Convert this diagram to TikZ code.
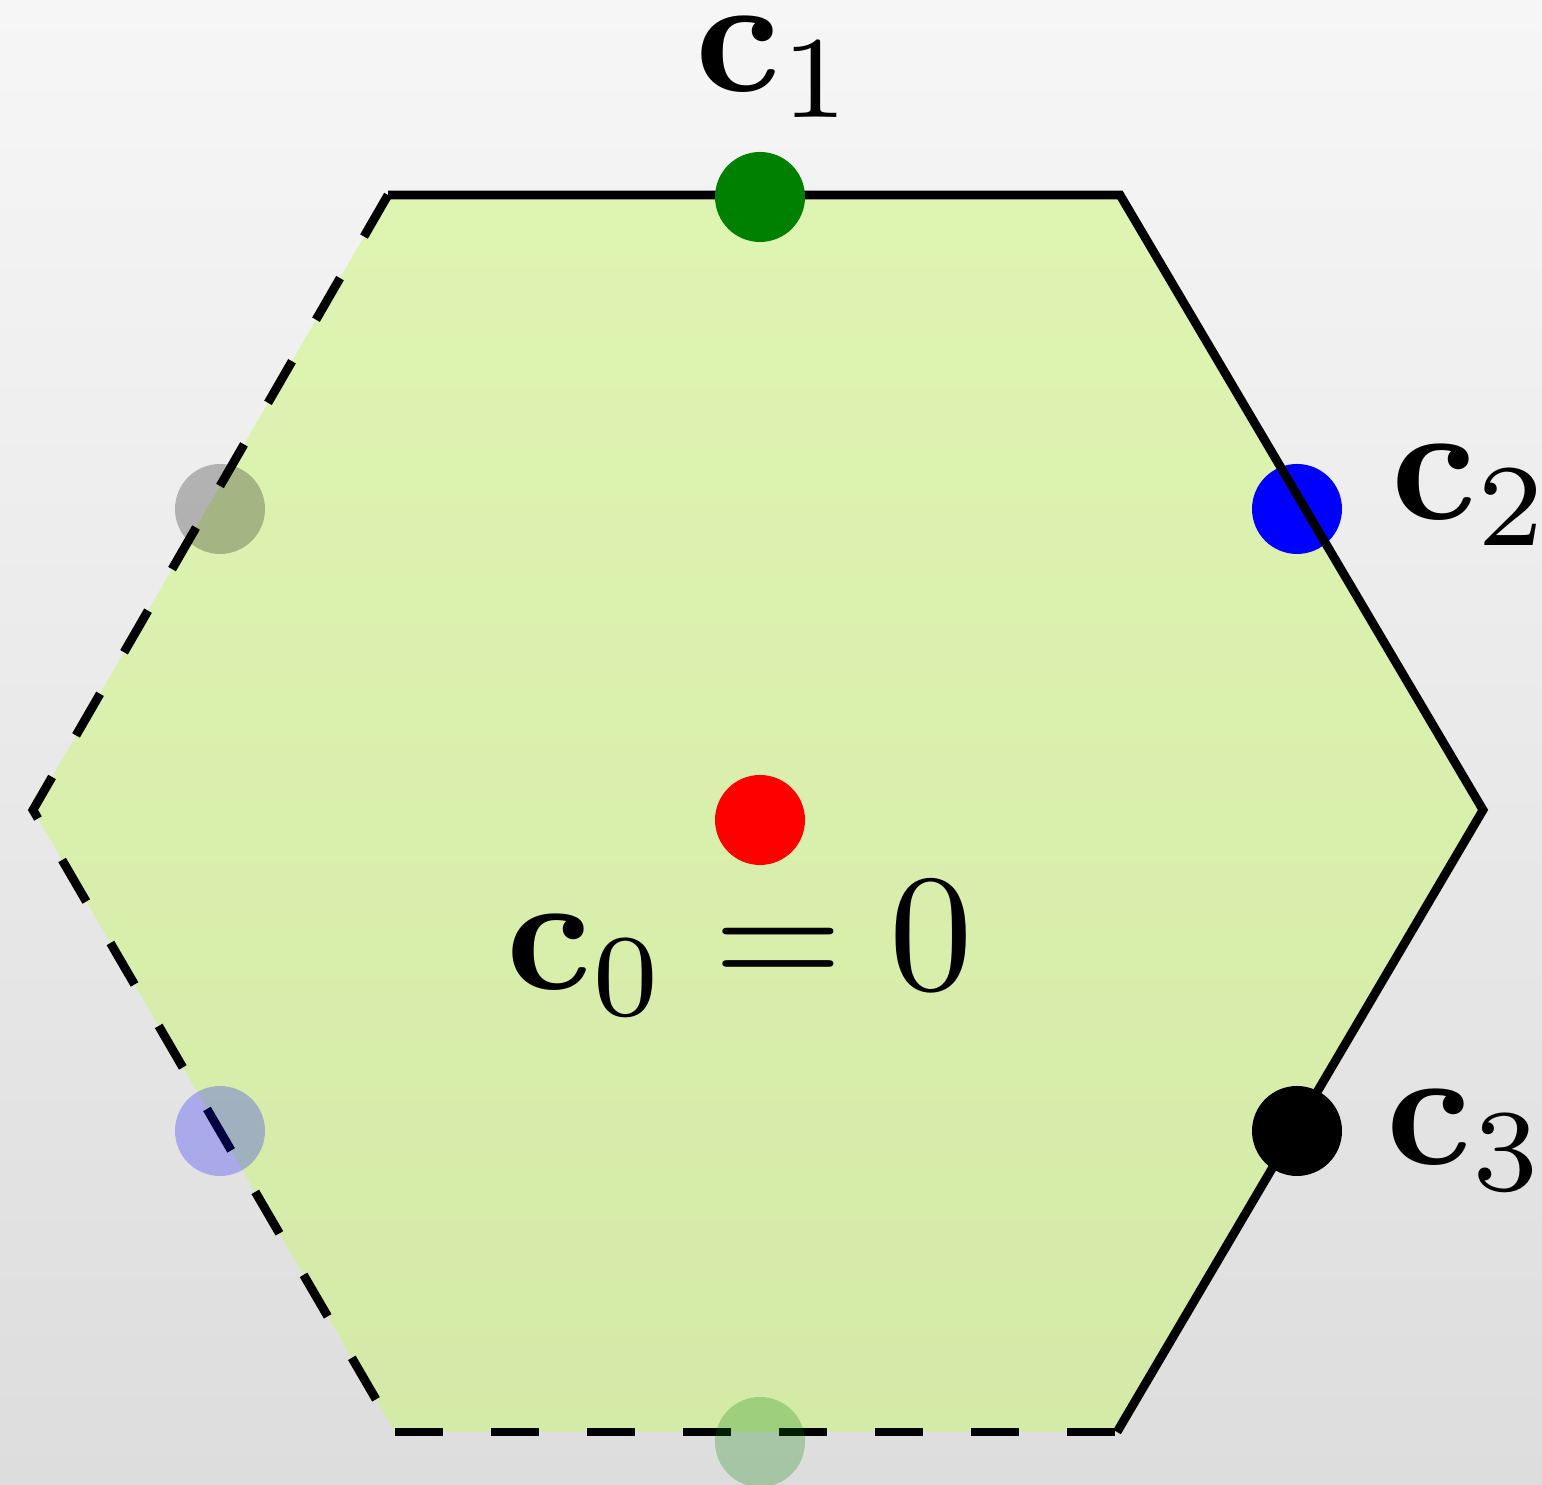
\documentclass[tikz,border=0pt]{standalone}
\usetikzlibrary{calc}
\definecolor{bgtop}{RGB}{246,246,246}
\definecolor{bgbot}{RGB}{221,221,221}
\definecolor{hexfill}{RGB}{204,246,114}
\definecolor{dkgreen}{RGB}{0,128,0}
\tikzset{
  edge/.style={line width=0.088cm, black},
  dashedge/.style={edge, dash pattern=on 0.48cm off 0.48cm},
  dot/.style={circle, minimum size=0.9cm, inner sep=0pt},
  ghost/.style={dot, fill opacity=0.25},
  lbl/.style={inner sep=0pt, anchor=base, scale=4.75, transform shape}
}
\begin{document}
\begin{tikzpicture}
\shade[top color=bgtop, bottom color=bgbot] (0,0) rectangle (15.42,14.85);
\useasboundingbox (0,0) rectangle (15.42,14.85);
% hexagon vertices
\coordinate (TL) at (3.88,12.90);
\coordinate (TR) at (11.20,12.90);
\coordinate (R) at (14.83,6.75);
\coordinate (BR) at (11.17,0.53);
\coordinate (BL) at (3.95,0.53);
\coordinate (L) at (0.33,6.75);
\fill[hexfill, fill opacity=0.5] (TL) -- (TR) -- (R) -- (BR) -- (BL) -- (L) -- cycle;
% c2 dot lies under the edge
\node[dot, fill=blue] (c2) at (12.97,9.76) {};
\draw[edge] (TL) -- (TR) -- (R) -- (BR);
\draw[dashedge] (TL) -- (L) -- (BL);
\draw[dashedge] (BL) -- (BR);
\node[dot, fill=dkgreen] (c1) at (7.60,12.88) {};
\node[dot, fill=black] (c3) at (12.97,3.54) {};
\node[dot, fill=red] (c0) at (7.60,6.65) {};
\node[ghost, fill=black] (m3) at (2.20,9.76) {};
\node[ghost, fill=blue] (m2) at (2.20,3.54) {};
\node[ghost, fill=dkgreen] (m1) at (7.60,0.43) {};
% labels
\node[lbl] (l1) at (7.76,13.93) {$\mathbf{c}_1$};
\node[lbl] (l2) at (14.72,9.65) {$\mathbf{c}_2$};
\node[lbl] (l3) at (14.67,3.20) {$\mathbf{c}_3$};
\node[lbl] (l0) at (7.40,4.95) {$\mathbf{c}_0 = 0$};
\end{tikzpicture}
\end{document}
